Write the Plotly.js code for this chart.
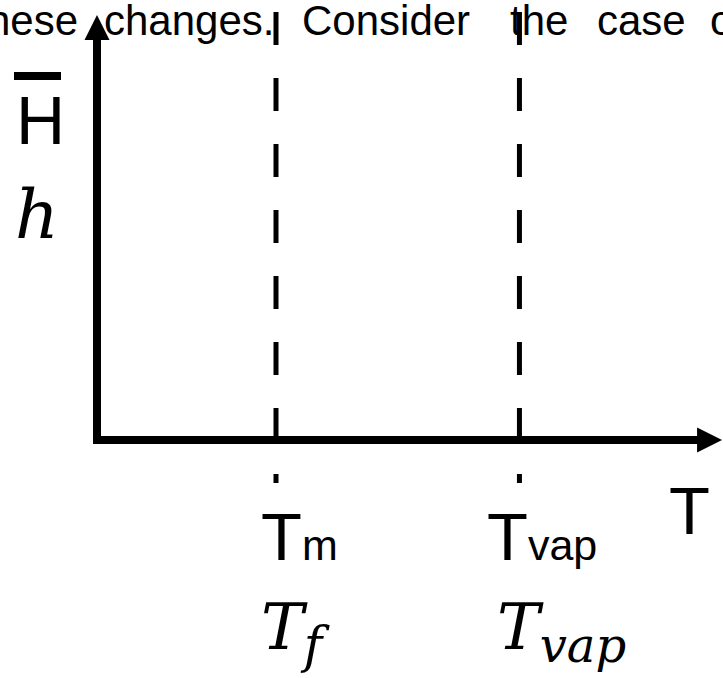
<!DOCTYPE html>
<html>
<head>
<meta charset="utf-8">
<script src="https://cdn.plot.ly/plotly-3.0.1.min.js"></script>
<style>
  html, body { margin: 0; padding: 0; background: #fff; }
  #chart { width: 723px; height: 678px; }
</style>
</head>
<body>
<div id="chart"></div>
<script>
// phase transitions on the temperature axis (arbitrary units, melting point = 1)
const transitionT = [1.0, 2.36];
const transitionLabels = ['T<span style="font-size:43px">m</span>', 'T<span style="font-size:43px">vap</span>'];
const transitionSymbols = ['T<sub><span style="font-size:50px">f</span></sub>', 'T<sub><span style="font-size:48px">vap</span></sub>'];
const enthalpyLabel = 'H';
const enthalpySymbol = 'h';
const temperatureLabel = 'T';
// axis lengths (same units as above)
const tMax = 3.492;
const hMax = 1.0;
// text line of the page that the figure cuts into
const proseWords = ['hese', 'changes.', 'Consider', 'the', 'case', 'o'];

// pixel frame of the sketch: origin and scale of the T / H axes
const ox = 97, oy = 440, sx = 179, sy = 425;
const tAt = px => (px - ox) / sx;
const hAt = py => (oy - py) / sy;
const dT = px => px / sx;
const dH = px => px / sy;

const sans = 'Liberation Sans, Arial, sans-serif';
const serif = 'DejaVu Serif, serif';

// justified line: first word is anchored by its right end, the rest by their left
const proseTrace = {
    x: [78, 104, 302, 510, 597, 710].map(tAt),
    y: proseWords.map(() => hAt(24)),
    text: proseWords,
    mode: 'text',
    textposition: ['middle left'].concat(proseWords.slice(1).map(() => 'middle right')),
    textfont: {family: sans, size: 42, color: '#000'},
    cliponaxis: false,
    hoverinfo: 'skip',
    showlegend: false
};

const guideTraces = transitionT.map(t => ({
    x: [t, t],
    y: [hAt(12), hAt(483)],
    mode: 'lines',
    line: {color: '#000', width: 5, dash: '33px,33px'},
    hoverinfo: 'skip',
    showlegend: false
}));

const shapes = [
    {
        type: 'path', xref: 'x', yref: 'y', layer: 'above',
        path: `M0,${hMax - dH(20)} L0,0 L${tMax - dT(20)},0`,
        line: {color: '#000', width: 8}
    },
    {
        type: 'path', xref: 'x', yref: 'y', layer: 'above',
        path: `M${-dT(12.5)},${hMax - dH(25)} L0,${hMax} L${dT(12.5)},${hMax - dH(25)} Z`,
        fillcolor: '#000', line: {width: 0}
    },
    {
        type: 'path', xref: 'x', yref: 'y', layer: 'above',
        path: `M${tMax - dT(25)},${dH(12.5)} L${tMax},0 L${tMax - dT(25)},${-dH(12.5)} Z`,
        fillcolor: '#000', line: {width: 0}
    },
    {
        // bar over H
        type: 'line', xref: 'x', yref: 'y', layer: 'above',
        x0: tAt(14), x1: tAt(61), y0: hAt(76), y1: hAt(76),
        line: {color: '#000', width: 8}
    }
];

const annotations = [
    {x: tAt(40), y: hAt(79.5), text: enthalpyLabel, font: {family: sans, size: 68, color: '#000'}},
    {x: tAt(37), y: hAt(173), text: '<i>' + enthalpySymbol + '</i>', font: {family: serif, size: 68, color: '#000'}},
    {x: tAt(689), y: hAt(471), text: temperatureLabel, font: {family: sans, size: 67, color: '#000'}}
];
transitionT.forEach((t, i) => {
    annotations.push({
        x: t, y: hAt(496.5), xshift: 23,
        text: transitionLabels[i],
        font: {family: sans, size: 67, color: '#000'}
    });
    annotations.push({
        x: t, y: hAt(588), xanchor: 'left', xshift: i === 0 ? -17 : -24,
        text: '<i>' + transitionSymbols[i] + '</i>',
        font: {family: serif, size: 64, color: '#000'}
    });
});
annotations.forEach(a => {
    a.xref = 'x';
    a.yref = 'y';
    a.yanchor = 'top';
    a.xanchor = a.xanchor || 'center';
    a.showarrow = false;
});

const layout = {
    width: 723,
    height: 678,
    margin: {l: 0, r: 0, t: 0, b: 0, pad: 0},
    paper_bgcolor: '#fff',
    plot_bgcolor: '#fff',
    xaxis: {range: [tAt(0), tAt(723)], visible: false, fixedrange: true},
    yaxis: {range: [hAt(678), hAt(0)], visible: false, fixedrange: true},
    shapes: shapes,
    annotations: annotations,
    showlegend: false
};

Plotly.newPlot('chart', [proseTrace, ...guideTraces], layout, {displayModeBar: false, staticPlot: true});
</script>
</body>
</html>
